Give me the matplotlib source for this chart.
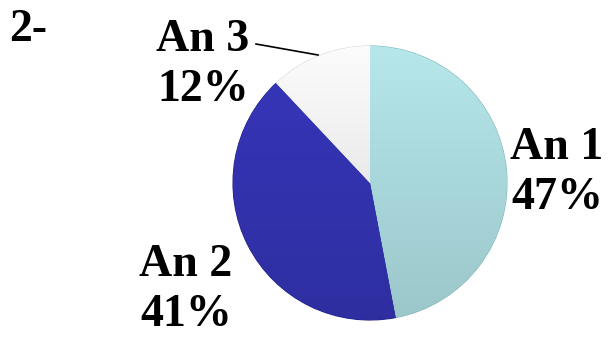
import numpy as np
import matplotlib
matplotlib.use("Agg")
import matplotlib.pyplot as plt

# slice data
labels = ["An 1", "An 2", "An 3"]
shares = [47, 41, 12]
colors = ["#b5e7eb", "#3636bb", "#fcfcfc"]
edge_colors = ["#7fb3b8", "#1e1e80", "#d8d8d8"]

plt.rcParams['font.family'] = ['Liberation Serif', 'DejaVu Serif']

fig = plt.figure(figsize=(6.08, 3.37), dpi=100)
ax = fig.add_axes([0, 0, 1, 1])

cx, cy, r = 370, 154, 137
wedges, _ = ax.pie(shares, colors=colors, startangle=90, counterclock=False,
                   center=(cx, cy), radius=r, frame=True,
                   wedgeprops=dict(linewidth=0.8))
for w, ec in zip(wedges, edge_colors):
    w.set_edgecolor(ec)

# soft vertical shading over each slice
grad = np.linspace(0, 1, 256).reshape(-1, 1)
for w, base in zip(wedges, colors):
    rgb = np.array(matplotlib.colors.to_rgb(base))
    dark = rgb * 0.86
    img = rgb[None, None, :] * (1 - grad[..., None]) + dark[None, None, :] * grad[..., None]
    im = ax.imshow(img, extent=(cx - r, cx + r, cy - r, cy + r), origin='upper',
                   zorder=w.get_zorder() + 0.1, aspect='auto')
    im.set_clip_path(w)

ax.set_xlim(0, 608)
ax.set_ylim(0, 337)
ax.set_aspect('equal')
ax.axis('off')

font = dict(fontsize=33, fontweight='bold', color='black', ha='center', va='center',
            linespacing=1.25)

# label positions in pixel units (from top-left)
label_pos = {"An 1": (557, 173), "An 2": (186, 290), "An 3": (203, 65)}
for name, share in zip(labels, shares):
    x, y = label_pos[name]
    ax.text(x, 337 - y, f"{name}\n{share}%", **font)

# leader line for An 3
ax.plot([256, 318], [337 - 44, 337 - 55], color='black', lw=1.2, zorder=5)

ax.text(9, 337 - 30, "2-", fontsize=33, fontweight='bold', ha='left', va='center')

fig.savefig("out.png", dpi=100)
